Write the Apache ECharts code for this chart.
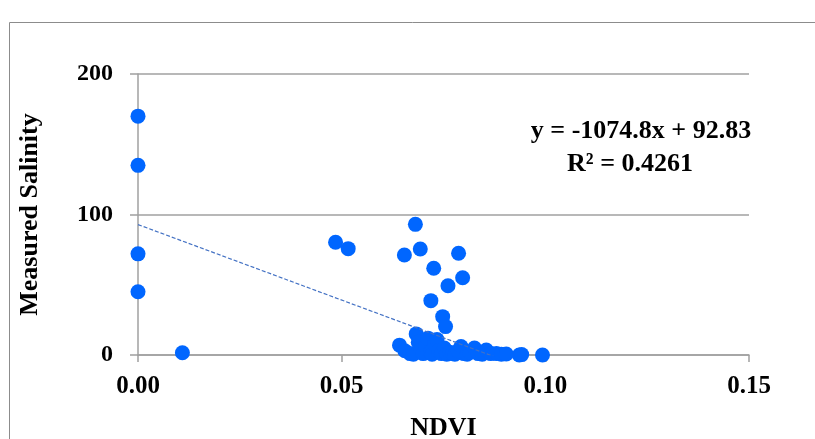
<!DOCTYPE html>
<html>
<head>
<meta charset="utf-8">
<script src="https://cdn.jsdelivr.net/npm/echarts@6/dist/echarts.min.js"></script>
<style>
  html, body { margin: 0; padding: 0; background: #fff; }
  #chartsDiv { width: 815px; height: 439px; }
</style>
</head>
<body>
<div id="chartsDiv"></div>
<script>
// NDVI vs measured salinity
var ndvi = [
  0, 0, 0, 0, 0.0109, 0.0485, 0.0516,
  0.0681, 0.0654, 0.0693, 0.0787, 0.0726, 0.0797, 0.0761, 0.0719, 0.0748, 0.0755,
  0.0642, 0.0655, 0.0668, 0.0676, 0.0683, 0.0688, 0.0695, 0.0700, 0.0706, 0.0712,
  0.0718, 0.0722, 0.0728, 0.0734, 0.0738, 0.0745, 0.0752, 0.0758, 0.0765, 0.0772,
  0.0778, 0.0786, 0.0793, 0.0800, 0.0808, 0.0815, 0.0826, 0.0835, 0.0845, 0.0855,
  0.0866, 0.0880, 0.0892, 0.0904, 0.0936, 0.0942, 0.0993
];
var salinity = [
  170, 135, 72, 45, 1.6, 80.2, 75.7,
  93, 71.2, 75.4, 72.4, 61.7, 55, 49.3, 38.7, 27.3, 20.2,
  7, 3, 1, 0.5, 15, 9, 4, 1, 6, 12,
  2, 0.5, 8, 11, 3, 1, 5, 0.5, 2, 1,
  0.5, 3, 6, 1, 0.5, 2, 5, 1, 0.5, 3.5,
  1, 1, 0.5, 0.7, 0, 0.3, 0
];
// linear trendline from the picture's equation
var slope = -1074.8;
var intercept = 92.83;
var xTicks = [0, 0.05, 0.10, 0.15];
var yTicks = [0, 100, 200];

var points = ndvi.map(function (x, i) { return [x, salinity[i]]; });
var xMax = Math.max.apply(null, ndvi);
var trend = [[0, intercept], [xMax, slope * xMax + intercept]];

var font = '"Liberation Serif", "Times New Roman", serif';
var realChart = echarts.init(document.getElementById('chartsDiv'));
var option = {
  animation: false,
  grid: {
    left: 138,
    right: 66,
    top: 74,
    bottom: 84,
    outerBoundsMode: 'none'
  },
  graphic: [{
    type: 'rect',
    shape: { x: 9.5, y: 22.5, width: 900, height: 500 },
    style: { fill: 'none', stroke: '#8c8c8c', lineWidth: 1 },
    silent: true
  }, {
    type: 'text',
    x: 641,
    y: 118,
    style: {
      text: 'y = -1074.8x + 92.83',
      align: 'center',
      fill: '#000',
      font: 'bold 26px ' + font
    }
  }, {
    type: 'text',
    x: 630,
    y: 151,
    style: {
      text: 'R² = 0.4261',
      align: 'center',
      fill: '#000',
      font: 'bold 26px ' + font
    }
  }],
  xAxis: {
    type: 'value',
    min: xTicks[0],
    max: xTicks[xTicks.length - 1],
    interval: 0.05,
    name: 'NDVI',
    nameLocation: 'middle',
    nameGap: 60,
    nameTextStyle: { color: '#000', fontFamily: font, fontWeight: 'bold', fontSize: 26 },
    axisLine: { lineStyle: { color: '#a0a0a0', width: 1.5 } },
    axisTick: { show: true, length: 7, lineStyle: { color: '#a0a0a0', width: 1.5 } },
    axisLabel: {
      color: '#000',
      fontFamily: font,
      fontWeight: 'bold',
      fontSize: 25,
      margin: 19,
      formatter: function (v) { return v.toFixed(2); }
    },
    splitLine: { show: false }
  },
  yAxis: {
    type: 'value',
    min: yTicks[0],
    max: yTicks[yTicks.length - 1],
    interval: 100,
    name: 'Measured Salinity',
    nameLocation: 'middle',
    nameGap: 95,
    nameTextStyle: { color: '#000', fontFamily: font, fontWeight: 'bold', fontSize: 26 },
    axisLine: { show: true, lineStyle: { color: '#a0a0a0', width: 1.5 } },
    axisTick: { show: true, length: 8, lineStyle: { color: '#a0a0a0', width: 1.5 } },
    axisLabel: {
      color: '#000',
      fontFamily: font,
      fontWeight: 'bold',
      fontSize: 24,
      margin: 25
    },
    splitLine: { show: true, lineStyle: { color: '#a0a0a0', width: 1.5 } }
  },
  series: [{
    type: 'scatter',
    data: points,
    symbol: 'circle',
    symbolSize: 15,
    clip: false,
    itemStyle: { color: '#0066ff', opacity: 1 },
    z: 3
  }, {
    type: 'line',
    data: trend,
    symbol: 'none',
    clip: true,
    lineStyle: { color: '#4472c4', width: 1.2, type: [4, 2] },
    z: 4
  }]
};
realChart.setOption(option);
</script>
</body>
</html>
